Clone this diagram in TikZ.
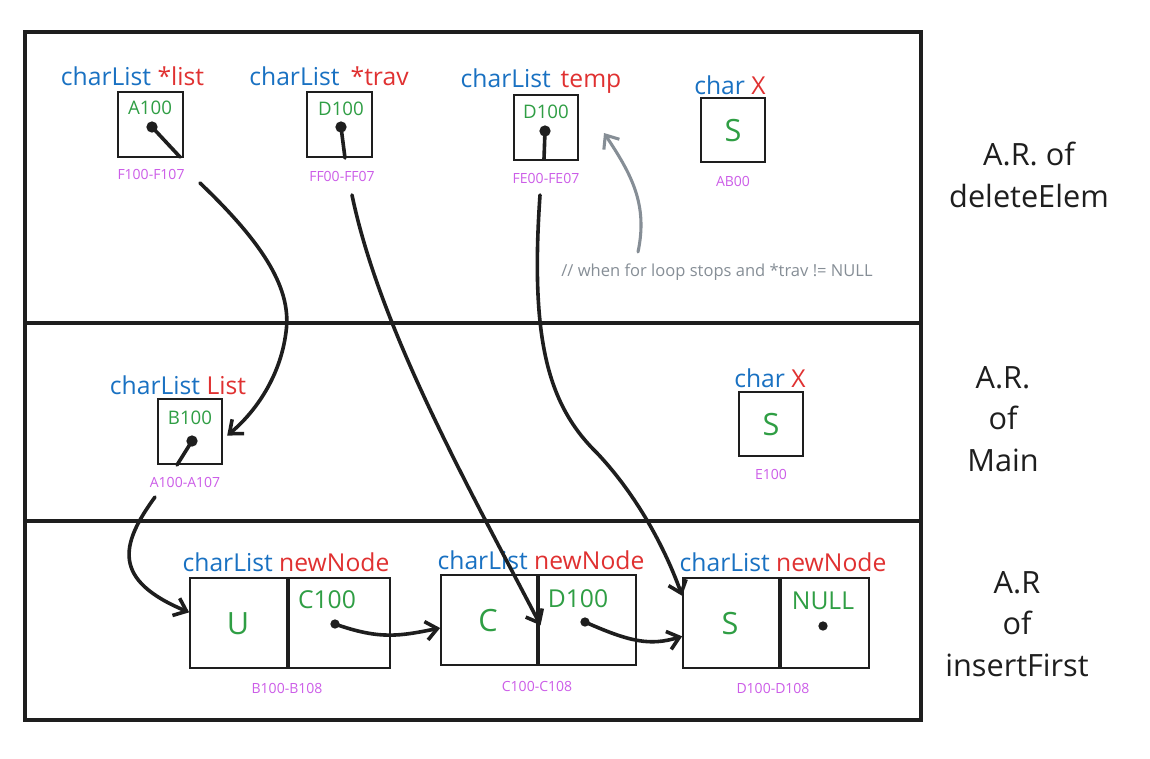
\documentclass[tikz,border=0pt]{standalone}
\usepackage{fontspec}
\setmainfont{Open Sans}
\usetikzlibrary{arrows.meta}
\definecolor{ink}{HTML}{1E1E1E}
\definecolor{cblue}{HTML}{1971C2}
\definecolor{cred}{HTML}{E03131}
\definecolor{cgreen}{HTML}{2F9E44}
\definecolor{cpurple}{HTML}{CC5DE8}
\definecolor{cgray}{HTML}{868E96}
\begin{document}
\begin{tikzpicture}[x=0.75pt,y=-0.75pt,
  lbl/.style={font=\fontsize{18.5}{20}\selectfont, inner sep=0},
  val/.style={text=cgreen, font=\fontsize{14}{15}\selectfont, inner sep=0},
  midval/.style={text=cgreen, font=\fontsize{18.5}{20}\selectfont, inner sep=0},
  bigval/.style={text=cgreen, font=\fontsize{23}{25}\selectfont, inner sep=0},
  addr/.style={text=cpurple, font=\fontsize{10.5}{12}\selectfont, inner sep=0},
  arlbl/.style={text=ink, font=\fontsize{23}{31}\selectfont, align=center, inner sep=0},
  note/.style={text=cgray, font=\fontsize{12.4}{14}\selectfont, inner sep=0},
  ptdot/.style={circle, fill=ink, inner sep=0, minimum size=8.5pt},
  smdot/.style={circle, fill=ink, inner sep=0, minimum size=7pt},
  ptr/.style={draw=ink, line width=2.7pt, line cap=round},
  arr/.style={ptr, -{Straight Barb[length=8.5pt,width=14pt]}},
  garr/.style={draw=cgray, line width=2.3pt, line cap=round, -{Straight Barb[length=8.5pt,width=14pt]}},
  cell/.style={draw=ink, line width=1.3pt, inner sep=0},
  sbox/.style={cell, minimum width=48.5pt, minimum height=48.5pt},
  frame/.style={draw=ink, line width=2.4pt},
  divider/.style={draw=ink, line width=3pt}]
\useasboundingbox (0,0) rectangle (1150,758);
\fill[white] (0,0) rectangle (1150,758);

% frame and sections
\draw[frame] (25,32) rectangle (921,720);
\draw[divider] (25,323) -- (921,323);
\draw[divider] (25,521) -- (921,521);

% section labels
\node[arlbl] (arDel) at (1029,175) {A.R. of\\deleteElem};
\node[arlbl] (arMain) at (1003,419) {A.R.\\of\\Main};
\node[arlbl] (arIns) at (1017,624) {A.R\\of\\insertFirst};

% ---------- deleteElem ----------
\node[lbl] (lList) at (132.5,76) {\textcolor{cblue}{charList} \textcolor{cred}{*list}};
\node[sbox] (bListP) at (150.5,124.5) {};
\node[val] (vListP) at (150,108) {A100};
\node[ptdot] (dListP) at (152,127) {};
\coordinate (sListP) at (180,157);
\draw[ptr] (dListP.center) -- (sListP);
\node[addr] (aListP) at (151,174) {F100-F107};

\node[lbl] (lTrav) at (329,76) {\textcolor{cblue}{charList}\hspace{0.45em}\textcolor{cred}{*trav}};
\node[sbox] (bTrav) at (339.5,124.5) {};
\node[val] (vTrav) at (341,109) {D100};
\node[ptdot] (dTrav) at (341,127) {};
\coordinate (sTrav) at (345,158);
\draw[ptr] (dTrav.center) -- (sTrav);
\node[addr] (aTrav) at (342,176) {FF00-FF07};

\node[lbl] (lTemp) at (541,81) {\textcolor{cblue}{charList}\hspace{0.4em}\textcolor{cred}{temp}};
\node[sbox] (bTemp) at (546,127.5) {};
\node[val] (vTemp) at (546,112) {D100};
\node[ptdot] (dTemp) at (545,131) {};
\coordinate (sTemp) at (544,159);
\draw[ptr] (dTemp.center) -- (sTemp);
\node[addr] (aTemp) at (546,178) {FE00-FE07};

\node[lbl] (lX1) at (730,85) {\textcolor{cblue}{char} \textcolor{cred}{X}};
\node[sbox] (bX1) at (733,130) {};
\node[bigval] (vX1) at (733,131) {S};
\node[addr] (aX1) at (733,181) {AB00};

\node[note] (cmt) at (717,272) {// when for loop stops and *trav != NULL};

% ---------- Main ----------
\node[lbl] (lMain) at (178,385) {\textcolor{cblue}{charList} \textcolor{cred}{List}};
\node[sbox] (bList) at (190,431.5) {};
\node[val] (vList) at (190,418) {B100};
\node[ptdot] (dList) at (192,441) {};
\coordinate (sList) at (177,465);
\draw[ptr] (dList.center) -- (sList);
\node[addr] (aList) at (185,482) {A100-A107};

\node[lbl] (lX2) at (770,378) {\textcolor{cblue}{char} \textcolor{cred}{X}};
\node[sbox] (bX2) at (771,424) {};
\node[bigval] (vX2) at (771,425) {S};
\node[addr] (aX2) at (771,474) {E100};

% ---------- insertFirst ----------
\node[lbl] (lN1) at (286,562) {\textcolor{cblue}{charList} \textcolor{cred}{newNode}};
\node[cell, minimum width=72.75pt, minimum height=67.5pt] (n1l) at (238.5,623) {};
\node[cell, minimum width=75.75pt, minimum height=67.5pt, anchor=west] (n1r) at (n1l.east) {};
\node[bigval] (v1l) at (238,624) {U};
\node[midval] (v1r) at (327,600) {C100};
\node[smdot] (d1) at (335,624) {};
\node[addr] (a1) at (287,688) {B100-B108};

\node[lbl] (lN2) at (541,560) {\textcolor{cblue}{charList} \textcolor{cred}{newNode}};
\node[cell, minimum width=72pt, minimum height=67.5pt] (n2l) at (489,620) {};
\node[cell, minimum width=72.75pt, minimum height=67.5pt, anchor=west] (n2r) at (n2l.east) {};
\node[bigval] (v2l) at (488,621) {C};
\node[midval] (v2r) at (578,599) {D100};
\node[smdot] (d2) at (585,622) {};
\node[addr] (a2) at (537,686) {C100-C108};

\node[lbl] (lN3) at (783,562) {\textcolor{cblue}{charList} \textcolor{cred}{newNode}};
\node[cell, minimum width=72pt, minimum height=67.5pt] (n3l) at (731,623) {};
\node[cell, minimum width=66pt, minimum height=67.5pt, anchor=west] (n3r) at (n3l.east) {};
\node[bigval] (v3l) at (730,624) {S};
\node[midval] (v3r) at (823,601) {NULL};
\node[smdot] (d3) at (823,626) {};
\node[addr] (a3) at (773,688) {D100-D108};

% ---------- connectors ----------
\coordinate (tListP) at (200,183);
\coordinate (tTrav) at (352,195);
\coordinate (tTemp) at (540,195);
\coordinate (tList) at (155,497);
\coordinate (gStart) at (638,252);
\coordinate (gEnd) at (604,133);

\draw[arr] (tListP) .. controls (265,245) and (292,290) .. (286,332)
  .. controls (280,380) and (252,415) .. ([xshift=3pt,yshift=-3pt]bList.east);
\draw[arr] (tTrav) .. controls (380,330) and (470,490) .. ([xshift=2pt,yshift=-4pt]n2r.west);
\draw[arr] (tTemp) .. controls (530,340) and (548,405) .. (597,453)
  .. controls (632,490) and (662,540) .. ([yshift=-14pt]n3l.north west);
\draw[arr] (tList) .. controls (120,545) and (112,580) .. ([yshift=8pt]n1l.west);
\draw[arr] (d1.center) .. controls (380,640) and (400,636) .. ([yshift=-6pt]n2l.west);
\draw[arr] (d2.center) .. controls (630,642) and (650,646) .. ([yshift=-10pt]n3l.west);
\draw[garr] (gStart) .. controls (648,205) and (632,175) .. (gEnd);
\end{tikzpicture}
\end{document}
